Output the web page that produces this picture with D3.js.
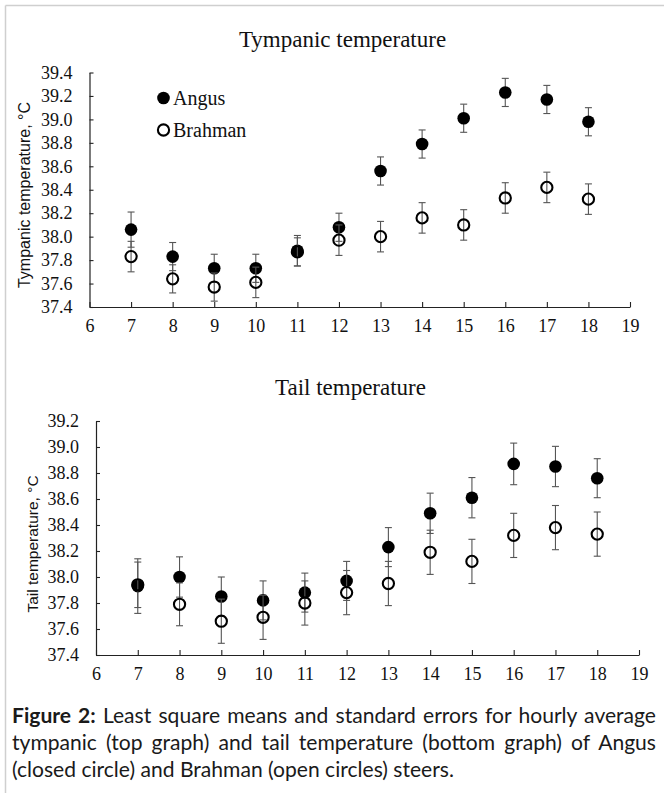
<!DOCTYPE html>
<html>
<head>
<meta charset="utf-8">
<script src="https://cdn.jsdelivr.net/npm/d3@7"></script>
<style>
  html, body { margin: 0; padding: 0; background: #fff; }
  svg { display: block; }
  svg .tick text { font-family: "Liberation Serif", "Times New Roman", serif !important; font-size: 18px !important; }
</style>
</head>
<body>
<svg id="chart" width="664" height="793"></svg>
<script>
// ---------------- DATA ----------------
const hours = [7, 8, 9, 10, 11, 12, 13, 14, 15, 16, 17, 18];
const xTickValues = [6, 7, 8, 9, 10, 11, 12, 13, 14, 15, 16, 17, 18, 19];
const seriesNames = ["Angus", "Brahman"];

const tympanicAngus     = [38.06, 37.83, 37.73, 37.73, 37.88, 38.08, 38.56, 38.79, 39.01, 39.23, 39.17, 38.98];
const tympanicAngusSE   = [0.15, 0.12, 0.12, 0.12, 0.13, 0.12, 0.12, 0.12, 0.12, 0.12, 0.12, 0.12];
const tympanicBrahman   = [37.83, 37.64, 37.57, 37.61, 37.87, 37.97, 38.00, 38.16, 38.10, 38.33, 38.42, 38.32];
const tympanicBrahmanSE = [0.13, 0.12, 0.12, 0.13, 0.12, 0.13, 0.13, 0.13, 0.13, 0.13, 0.13, 0.13];
const tympanicYTicks    = [37.4, 37.6, 37.8, 38.0, 38.2, 38.4, 38.6, 38.8, 39.0, 39.2, 39.4];

const tailAngus     = [37.93, 38.00, 37.85, 37.82, 37.88, 37.97, 38.23, 38.49, 38.61, 38.87, 38.85, 38.76];
const tailAngusSE   = [0.21, 0.155, 0.15, 0.15, 0.15, 0.15, 0.15, 0.155, 0.155, 0.16, 0.155, 0.15];
const tailBrahman   = [37.94, 37.79, 37.66, 37.69, 37.80, 37.88, 37.95, 38.19, 38.12, 38.32, 38.38, 38.33];
const tailBrahmanSE = [0.175, 0.165, 0.17, 0.17, 0.17, 0.17, 0.17, 0.17, 0.17, 0.17, 0.17, 0.17];
const tailYTicks    = [37.4, 37.6, 37.8, 38.0, 38.2, 38.4, 38.6, 38.8, 39.0, 39.2];

const captionLines = [
  { bold: "Figure 2:", text: " Least square means and standard errors for hourly average", justify: true },
  { bold: "", text: "tympanic (top graph) and tail temperature (bottom graph) of Angus", justify: true },
  { bold: "", text: "(closed circle) and Brahman (open circles) steers.", justify: false }
];

// ---------------- DRAW ----------------
const svg = d3.select("#chart");
const SERIF = "'Liberation Serif', 'Times New Roman', serif";
const SANS = "'Liberation Sans', Arial, sans-serif";

// frame lines
svg.append("line").attr("x1", 5.5).attr("x2", 664).attr("y1", 5.5).attr("y2", 5.5)
  .attr("stroke", "#cfcfcf").attr("stroke-width", 1.5);
svg.append("line").attr("x1", 5.5).attr("x2", 5.5).attr("y1", 5.5).attr("y2", 793)
  .attr("stroke", "#cfcfcf").attr("stroke-width", 1.5);

function panel(cfg) {
  const x = d3.scaleLinear().domain([6, 19]).range([cfg.x0, cfg.x1]);
  const y = d3.scaleLinear().domain([cfg.yTicks[0], cfg.yTicks[cfg.yTicks.length - 1]]).range([cfg.y0, cfg.y1]);
  const g = svg.append("g");

  // title
  g.append("text").attr("x", cfg.titleX).attr("y", cfg.titleY)
    .attr("text-anchor", "middle").style("font-family", SERIF).style("font-size", "23px")
    .attr("fill", "#111").text(cfg.title);

  // y axis title
  g.append("text").attr("transform", `translate(${cfg.yLabelX},${cfg.yLabelY}) rotate(-90)`)
    .attr("text-anchor", "middle").style("font-family", SANS).style("font-size", cfg.yLabelSize + "px")
    .attr("fill", "#111").text(cfg.yLabel);

  // axes
  const xAxis = d3.axisBottom(x).tickValues(xTickValues).tickFormat(d3.format("d"))
    .tickSizeInner(-5).tickSizeOuter(0).tickPadding(12);
  const gx = g.append("g").attr("transform", `translate(0,${cfg.y0})`).call(xAxis);
  const yAxis = d3.axisLeft(y).tickValues(cfg.yTicks).tickFormat(d3.format(".1f"))
    .tickSizeInner(-4).tickSizeOuter(0).tickPadding(cfg.yPad);
  const gy = g.append("g").attr("transform", `translate(${cfg.x0},0)`).call(yAxis);
  [gx, gy].forEach(a => {
    a.attr("font-family", SERIF).attr("font-size", 18);
    a.selectAll("path.domain").attr("stroke", "#222").attr("stroke-width", 1.2);
    a.selectAll(".tick line").attr("stroke", "#222").attr("stroke-width", 1.1);
    a.selectAll(".tick text").attr("font-family", SERIF).attr("fill", "#111");
  });

  // series
  cfg.series.forEach((s, si) => {
    const pts = hours.map((h, i) => ({ h, v: s.values[i], se: s.se[i] }));
    const eb = g.append("g").attr("stroke", "#555").attr("stroke-width", 1.1).attr("fill", "none");
    pts.forEach(p => {
      const cx = x(p.h), yt = y(p.v + p.se), yb = y(p.v - p.se);
      eb.append("line").attr("x1", cx).attr("x2", cx).attr("y1", yt).attr("y2", yb);
      eb.append("line").attr("x1", cx - 3.5).attr("x2", cx + 3.5).attr("y1", yt).attr("y2", yt);
      eb.append("line").attr("x1", cx - 3.5).attr("x2", cx + 3.5).attr("y1", yb).attr("y2", yb);
    });
    g.append("g").selectAll("circle").data(pts).join("circle")
      .attr("cx", d => x(d.h)).attr("cy", d => y(d.v))
      .attr("r", si === 0 ? 6.3 : 5.6)
      .attr("fill", si === 0 ? "#000" : "none")
      .attr("stroke", "#000").attr("stroke-width", si === 0 ? 0 : 2.1);
  });

  // legend
  if (cfg.legend) {
    seriesNames.forEach((name, i) => {
      const ly = cfg.legend.y + i * cfg.legend.dy;
      g.append("circle").attr("cx", cfg.legend.x).attr("cy", ly)
        .attr("r", i === 0 ? 6.3 : 5.6)
        .attr("fill", i === 0 ? "#000" : "none").attr("stroke", "#000")
        .attr("stroke-width", i === 0 ? 0 : 2.1);
      g.append("text").attr("x", cfg.legend.x + 9.5).attr("y", ly + 6.5)
        .style("font-family", SERIF).style("font-size", "20px").attr("fill", "#111").text(name);
    });
  }
}

panel({
  title: "Tympanic temperature", titleX: 342.5, titleY: 47,
  yLabel: "Tympanic temperature, °C", yLabelX: 30, yLabelY: 195, yLabelSize: 16,
  x0: 89.5, x1: 630, y0: 307, y1: 72.5, yPad: 17, yTicks: tympanicYTicks,
  series: [
    { values: tympanicAngus, se: tympanicAngusSE },
    { values: tympanicBrahman, se: tympanicBrahmanSE }
  ],
  legend: { x: 163.5, y: 98, dy: 32 }
});

panel({
  title: "Tail temperature", titleX: 350.5, titleY: 395,
  yLabel: "Tail temperature, °C", yLabelX: 38, yLabelY: 544, yLabelSize: 15.5,
  x0: 96, x1: 639, y0: 655, y1: 421, yPad: 17, yTicks: tailYTicks,
  series: [
    { values: tailAngus, se: tailAngusSE },
    { values: tailBrahman, se: tailBrahmanSE }
  ]
});

// caption
const CAP_FONT = "Lato, 'Open Sans', 'Noto Sans', sans-serif";
const capLeft = 12, capRight = 656, capBase = [723, 750, 777];
function lineWidth(ln, size) {
  const t = svg.append("text").style("font-family", CAP_FONT).style("font-size", size + "px")
    .style("white-space", "pre");
  if (ln.bold) t.append("tspan").style("font-weight", "bold").text(ln.bold);
  t.append("tspan").text(ln.text);
  const w = t.node().getComputedTextLength();
  t.remove();
  return w;
}
// size the caption so the first justified line needs only a little extra spacing
const capSize = 17 * 626 / lineWidth(captionLines[0], 17);

captionLines.forEach((ln, i) => {
  const t = svg.append("text").attr("x", capLeft).attr("y", capBase[i])
    .style("font-family", CAP_FONT).style("font-size", capSize + "px").attr("fill", "#1a1a1a")
    .style("white-space", "pre");
  if (ln.bold) t.append("tspan").style("font-weight", "bold").text(ln.bold);
  t.append("tspan").text(ln.text);
  if (ln.justify) {
    const w = t.node().getComputedTextLength();
    const nSpaces = (ln.bold + ln.text).split(" ").length - 1;
    t.style("word-spacing", ((capRight - capLeft - w) / nSpaces) + "px");
  }
});
</script>
</body>
</html>
